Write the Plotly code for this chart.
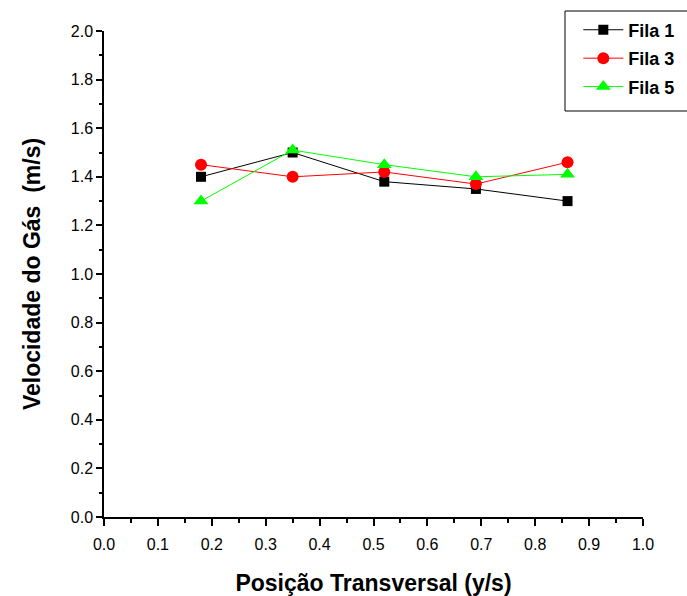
import plotly.graph_objects as go

x_pos = [0.18, 0.35, 0.52, 0.69, 0.86]
fila1 = [1.40, 1.50, 1.38, 1.35, 1.30]
fila3 = [1.45, 1.40, 1.42, 1.37, 1.46]
fila5 = [1.30, 1.51, 1.45, 1.40, 1.41]
x_ticks = [0.0, 0.1, 0.2, 0.3, 0.4, 0.5, 0.6, 0.7, 0.8, 0.9, 1.0]
y_ticks = [0.0, 0.2, 0.4, 0.6, 0.8, 1.0, 1.2, 1.4, 1.6, 1.8, 2.0]

FONT = "Liberation Sans, Arial, sans-serif"

fig = go.Figure()
series = [
    ("Fila 1", fila1, "black", "square", 10),
    ("Fila 3", fila3, "red", "circle", 12),
    ("Fila 5", fila5, "#00ff00", "triangle-up", 13),
]
for i, (name, vals, col, sym, sz) in enumerate(series):
    fig.add_trace(go.Scatter(
        x=x_pos, y=vals, name=name, mode="lines+markers",
        line=dict(color=col, width=1),
        marker=dict(color=col, symbol=sym, size=sz),
        legendgroup=f"g{i}",
    ))

fig.update_layout(
    width=687, height=596,
    margin=dict(l=104, r=44, t=31, b=79, autoexpand=False),
    plot_bgcolor="white", paper_bgcolor="white",
    font=dict(family=FONT, color="black", size=16),
    showlegend=True,
    legend=dict(
        x=0.88, y=1.04, xanchor="left", yanchor="top",
        bgcolor="rgba(0,0,0,0)", borderwidth=0,
        font=dict(family=FONT, size=18, color="black", weight="bold"),
        tracegroupgap=2, traceorder="grouped", itemwidth=40,
    ),
    shapes=[dict(
        type="rect", xref="paper", yref="paper",
        x0=(565 - 104) / 539, x1=(700 - 104) / 539,
        y0=(517 - 111) / 486, y1=(517 - 11) / 486,
        line=dict(color="black", width=1), fillcolor="rgba(0,0,0,0)",
    )],
)

fig.update_xaxes(
    range=[0, 1], tickvals=x_ticks, ticktext=[f"{v:.1f}" for v in x_ticks],
    showgrid=False, zeroline=False, showline=True, linecolor="black", linewidth=1.5,
    ticks="outside", ticklen=7, tickwidth=1.5, tickcolor="black",
    minor=dict(dtick=0.05, ticks="outside", ticklen=4, tickwidth=1.5, tickcolor="black"),
    tickfont=dict(size=16), ticklabelstandoff=5, automargin=False,
    title=dict(text="Posição Transversal (y/s)", font=dict(size=23, weight="bold"), standoff=24),
)
fig.update_yaxes(
    range=[0, 2], tickvals=y_ticks, ticktext=[f"{v:.1f}" for v in y_ticks],
    showgrid=False, zeroline=False, showline=True, linecolor="black", linewidth=1.5,
    ticks="outside", ticklen=6, tickwidth=1.5, tickcolor="black",
    minor=dict(dtick=0.1, ticks="outside", ticklen=3, tickwidth=1.5, tickcolor="black"),
    tickfont=dict(size=16), automargin=False,
    title=dict(text="Velocidade do Gás  (m/s)", font=dict(size=23, weight="bold"), standoff=24),
)

fig.write_html("out.html")
